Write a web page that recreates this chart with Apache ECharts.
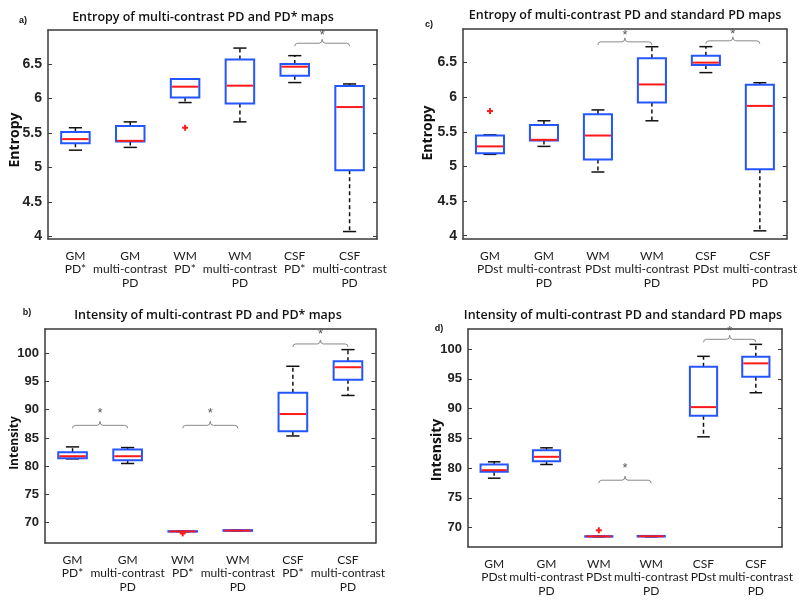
<!DOCTYPE html>
<html><head><meta charset="utf-8">
<script src="https://cdn.jsdelivr.net/npm/echarts@6/dist/echarts.min.js"></script>
<style>html,body{margin:0;padding:0;background:#fff}#c{width:800px;height:601px}</style>
</head><body><div id="c"></div>
<script>
// ---------- data ----------
const catsPDstar = ['GM\nPD*', 'GM\nmulti-contrast\nPD', 'WM\nPD*', 'WM\nmulti-contrast\nPD', 'CSF\nPD*', 'CSF\nmulti-contrast\nPD'];
const catsPDst = ['GM\nPDst', 'GM\nmulti-contrast\nPD', 'WM\nPDst', 'WM\nmulti-contrast\nPD', 'CSF\nPDst', 'CSF\nmulti-contrast\nPD'];

// each box: [lower whisker, Q1, median, Q3, upper whisker]
const entropyPDstarBoxes = [
  [5.25, 5.35, 5.41, 5.515, 5.575],
  [5.29, 5.375, 5.385, 5.60, 5.66],
  [5.94, 6.015, 6.17, 6.28, 6.28],
  [5.66, 5.925, 6.185, 6.565, 6.73],
  [6.23, 6.33, 6.46, 6.50, 6.62],
  [4.07, 4.96, 5.875, 6.18, 6.21]
];
const entropyPDstarOutliers = [[2, 5.575]];
const entropyPDstarSig = [[4, 5, 6.80, 6.92]];

const entropyPDstBoxes = [
  [5.175, 5.19, 5.29, 5.447, 5.457],
  [5.29, 5.375, 5.385, 5.60, 5.66],
  [4.92, 5.10, 5.447, 5.755, 5.817],
  [5.66, 5.925, 6.185, 6.565, 6.73],
  [6.356, 6.466, 6.50, 6.601, 6.731],
  [4.07, 4.96, 5.875, 6.18, 6.21]
];
const entropyPDstOutliers = [[0, 5.80]];
const entropyPDstSig = [[2, 3, 6.80, 6.90], [4, 5, 6.815, 6.91]];

const intensityPDstarBoxes = [
  [81.30, 81.42, 81.77, 82.48, 83.42],
  [80.48, 81.07, 81.77, 82.95, 83.30],
  [68.40, 68.42, 68.45, 68.50, 68.52],
  [68.52, 68.55, 68.60, 68.68, 68.70],
  [85.36, 86.18, 89.24, 93.00, 97.70],
  [92.53, 95.30, 97.53, 98.59, 100.65]
];
const intensityPDstarOutliers = [[2, 68.1]];
const intensityPDstarSig = [[0, 1, 87.24, 89.4], [2, 3, 87.24, 89.4], [4, 5, 101.65, 103.3]];

const intensityPDstBoxes = [
  [78.30, 79.37, 79.65, 80.60, 81.05],
  [80.60, 81.16, 81.89, 83.00, 83.40],
  [68.45, 68.48, 68.52, 68.56, 68.60],
  [68.45, 68.50, 68.54, 68.60, 68.62],
  [85.25, 88.79, 90.24, 97.03, 98.77],
  [92.65, 95.35, 97.59, 98.71, 100.78]
];
const intensityPDstOutliers = [[2, 69.55]];
const intensityPDstSig = [[2, 3, 77.96, 79.9], [4, 5, 101.63, 102.9]];

const entropyTicks = [4, 4.5, 5, 5.5, 6, 6.5];
const intensityTicks = [70, 75, 80, 85, 90, 95, 100];

const titles = [
  'Entropy of multi-contrast PD and PD* maps',
  'Entropy of multi-contrast PD and standard PD maps',
  'Intensity of multi-contrast PD and PD* maps',
  'Intensity of multi-contrast PD and standard PD maps'
];
const panelTags = ['a)', 'c)', 'b)', 'd)'];
const yNames = ['Entropy', 'Entropy', 'Intensity', 'Intensity'];

// ---------- layout / style ----------
const panels = [
  {grid: {left: 48, top: 30, width: 329, height: 209}, cats: catsPDstar, boxes: entropyPDstarBoxes, out: entropyPDstarOutliers, sig: entropyPDstarSig, ticks: entropyTicks, min: 3.962, max: 6.992,
   title: [203, 17], tag: [23, 21], yname: [15, 140, 14], tickFont: 14},
  {grid: {left: 463, top: 29, width: 324, height: 210}, cats: catsPDst, boxes: entropyPDstBoxes, out: entropyPDstOutliers, sig: entropyPDstSig, ticks: entropyTicks, min: 3.952, max: 6.986,
   title: [625, 15], tag: [429, 25], yname: [428, 133, 14], tickFont: 14},
  {grid: {left: 45, top: 329, width: 330.5, height: 214}, cats: catsPDstar, boxes: intensityPDstarBoxes, out: intensityPDstarOutliers, sig: intensityPDstarSig, ticks: intensityTicks, min: 66.4, max: 104.3,
   title: [208, 315], tag: [27, 313], yname: [15, 443, 12], tickFont: 13},
  {grid: {left: 468, top: 329, width: 314, height: 218}, cats: catsPDst, boxes: intensityPDstBoxes, out: intensityPDstOutliers, sig: intensityPDstSig, ticks: intensityTicks, min: 66.74, max: 103.36,
   title: [623, 315], tag: [439, 329], yname: [437, 450, 14], tickFont: 13}
];

const AX = '#3a3a3a';
const BLUE = '#2456ff';
const RED = '#ff1a1a';

function boxRender(params, api) {
  const x = api.value(0);
  const band = api.size([1, 0])[0];
  const bw = band * 0.52, cw = band * 0.24;
  const cx = api.coord([x, api.value(3)])[0];
  const yL = api.coord([x, api.value(1)])[1];
  const yQ1 = api.coord([x, api.value(2)])[1];
  const yM = api.coord([x, api.value(3)])[1];
  const yQ3 = api.coord([x, api.value(4)])[1];
  const yH = api.coord([x, api.value(5)])[1];
  const dash = {stroke: '#111', lineWidth: 1.5, lineDash: [4, 3]};
  const cap = {stroke: '#111', lineWidth: 1.5};
  const ch = [];
  if (yQ3 - yH > 0.5) ch.push({type: 'line', shape: {x1: cx, y1: yQ3, x2: cx, y2: yH}, style: dash});
  if (yL - yQ1 > 0.5) ch.push({type: 'line', shape: {x1: cx, y1: yQ1, x2: cx, y2: yL}, style: dash});
  ch.push({type: 'line', shape: {x1: cx - cw / 2, y1: yH, x2: cx + cw / 2, y2: yH}, style: cap});
  ch.push({type: 'line', shape: {x1: cx - cw / 2, y1: yL, x2: cx + cw / 2, y2: yL}, style: cap});
  ch.push({type: 'rect', shape: {x: cx - bw / 2, y: yQ3, width: bw, height: Math.max(yQ1 - yQ3, 0.5)}, style: {fill: 'none', stroke: BLUE, lineWidth: 2}});
  ch.push({type: 'line', shape: {x1: cx - bw / 2 + 1, y1: yM, x2: cx + bw / 2 - 1, y2: yM}, style: {stroke: RED, lineWidth: 2}});
  return {type: 'group', children: ch};
}

function outRender(params, api) {
  const p = api.coord([api.value(0), api.value(1)]);
  const s = 3;
  return {type: 'group', children: [
    {type: 'line', shape: {x1: p[0] - s, y1: p[1], x2: p[0] + s, y2: p[1]}, style: {stroke: RED, lineWidth: 2}},
    {type: 'line', shape: {x1: p[0], y1: p[1] - s, x2: p[0], y2: p[1] + s}, style: {stroke: RED, lineWidth: 2}}
  ]};
}

function sigRender(params, api) {
  const a = api.coord([api.value(0), api.value(2)]);
  const b = api.coord([api.value(1), api.value(2)]);
  const st = api.coord([api.value(0), api.value(3)]);
  const y = a[1], x1 = a[0], x2 = b[0], xm = (x1 + x2) / 2;
  const path = 'M' + x1 + ' ' + (y + 3) + ' Q' + x1 + ' ' + y + ' ' + (x1 + 3) + ' ' + y +
    ' L' + (xm - 3) + ' ' + y + ' Q' + xm + ' ' + y + ' ' + xm + ' ' + (y - 4) +
    ' Q' + xm + ' ' + y + ' ' + (xm + 3) + ' ' + y +
    ' L' + (x2 - 3) + ' ' + y + ' Q' + x2 + ' ' + y + ' ' + x2 + ' ' + (y + 3);
  return {type: 'group', children: [
    {type: 'path', shape: {pathData: path}, style: {fill: 'none', stroke: '#8a8a8a', lineWidth: 1}},
    {type: 'text', style: {x: xm, y: st[1], text: '*', fill: '#555', font: '13px "Liberation Sans"', textAlign: 'center', textVerticalAlign: 'middle'}}
  ]};
}

const grid = [], xAxis = [], yAxis = [], series = [], graphic = [];
panels.forEach((p, g) => {
  grid.push(p.grid);
  xAxis.push({type: 'category', gridIndex: g, data: p.cats, position: 'bottom',
    axisLine: {lineStyle: {color: AX, width: 1.5}},
    axisTick: {inside: true, alignWithLabel: true, length: 4, lineStyle: {color: AX}},
    axisLabel: {interval: 0, color: '#1a1a1a', fontFamily: 'Lato', fontSize: 12, lineHeight: 13.5, margin: 10},
    splitLine: {show: false}});
  xAxis.push({type: 'category', gridIndex: g, data: p.cats, position: 'top',
    axisLine: {lineStyle: {color: AX, width: 1.5}},
    axisTick: {inside: true, alignWithLabel: true, length: 4, lineStyle: {color: AX}},
    axisLabel: {show: false}, splitLine: {show: false}});
  yAxis.push({type: 'value', gridIndex: g, min: p.min, max: p.max, position: 'left',
    axisLine: {show: true, lineStyle: {color: AX, width: 1.5}},
    axisTick: {show: true, inside: true, length: 4, customValues: p.ticks, lineStyle: {color: AX}},
    axisLabel: {customValues: p.ticks, color: '#222', fontFamily: 'Liberation Sans', fontWeight: 'bold', fontSize: p.tickFont, margin: 6},
    splitLine: {show: false}});
  yAxis.push({type: 'value', gridIndex: g, min: p.min, max: p.max, position: 'right',
    axisLine: {show: true, lineStyle: {color: AX, width: 1.5}},
    axisTick: {show: true, inside: true, length: 4, customValues: p.ticks, lineStyle: {color: AX}},
    axisLabel: {show: false}, splitLine: {show: false}});

  series.push({type: 'custom', xAxisIndex: 2 * g, yAxisIndex: 2 * g, renderItem: sigRender,
    encode: {x: [0, 1], y: [2, 3]}, data: p.sig, silent: true, clip: false, z: 3});
  series.push({type: 'custom', xAxisIndex: 2 * g, yAxisIndex: 2 * g, renderItem: boxRender,
    encode: {x: 0, y: [1, 2, 3, 4, 5]}, data: p.boxes.map((b, i) => [i].concat(b)), silent: true, z: 4});
  series.push({type: 'custom', xAxisIndex: 2 * g, yAxisIndex: 2 * g, renderItem: outRender,
    encode: {x: 0, y: 1}, data: p.out, silent: true, z: 5});

  graphic.push({type: 'text', x: p.title[0], y: p.title[1], style: {text: titles[g], fill: '#111',
    font: '600 12.5px "Open Sans"', textAlign: 'center', textVerticalAlign: 'middle'}});
  graphic.push({type: 'text', x: p.tag[0], y: p.tag[1], style: {text: panelTags[g], fill: '#111',
    font: 'bold 9px "Liberation Sans"', textAlign: 'center', textVerticalAlign: 'middle'}});
  graphic.push({type: 'text', x: p.yname[0], y: p.yname[1], rotation: Math.PI / 2, style: {text: yNames[g], fill: '#111',
    font: 'bold ' + p.yname[2] + 'px "Open Sans"', textAlign: 'center', textVerticalAlign: 'middle'}});
});

const chart = echarts.init(document.getElementById('c'), null, {renderer: 'canvas'});
chart.setOption({animation: false, backgroundColor: '#fff', grid, xAxis, yAxis, series, graphic});
</script>
</body></html>
